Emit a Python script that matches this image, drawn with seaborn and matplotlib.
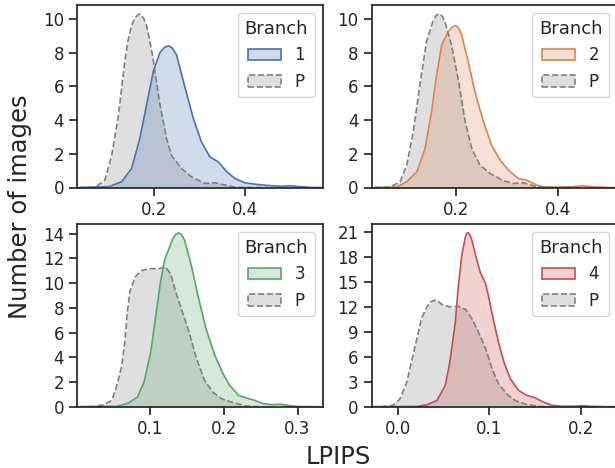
import matplotlib
matplotlib.use("Agg")
import numpy as np
import pandas as pd
import seaborn as sns
import matplotlib.pyplot as plt
from matplotlib.patches import Patch
from matplotlib.colors import to_rgba
from matplotlib.ticker import FixedLocator

# ---------------- data ----------------
branch_labels = ["1", "2", "3", "4"]

# Panel 1
p1_x = [0.035, 0.069, 0.091, 0.106, 0.121, 0.135, 0.142, 0.150, 0.158, 0.168, 0.176, 0.183, 0.190, 0.198, 0.2125, 0.227, 0.238, 0.26, 0.282, 0.312, 0.334, 0.356, 0.378, 0.40, 0.45]
p1_y = [0.0, 0.0, 0.44, 1.9, 4.3, 7.5, 8.7, 9.6, 10.1, 10.3, 10.05, 9.6, 8.7, 7.5, 4.9, 2.9, 1.9, 1.13, 0.63, 0.24, 0.28, 0.14, 0.02, 0.0, 0.0]
b1_x = [0.035, 0.10, 0.128, 0.15, 0.168, 0.183, 0.198, 0.2125, 0.222, 0.232, 0.240, 0.249, 0.268, 0.286, 0.304, 0.3225, 0.341, 0.36, 0.378, 0.40, 0.42, 0.45, 0.48, 0.50, 0.52, 0.55, 0.57]
b1_y = [0.0, 0.05, 0.34, 1.13, 2.9, 4.9, 6.9, 8.0, 8.3, 8.4, 8.25, 7.86, 5.9, 4.1, 2.7, 1.82, 1.52, 0.93, 0.53, 0.28, 0.2, 0.12, 0.07, 0.1, 0.05, 0.0, 0.0]

# Panel 2
p2_x = [0.04, 0.07, 0.09, 0.103, 0.116, 0.129, 0.142, 0.155, 0.161, 0.167, 0.173, 0.178, 0.191, 0.205, 0.218, 0.231, 0.247, 0.267, 0.293, 0.313, 0.3325, 0.359, 0.38, 0.45]
p2_y = [0.0, 0.02, 0.34, 1.33, 3.3, 6.1, 8.65, 9.9, 10.2, 10.3, 10.15, 9.84, 8.46, 6.3, 3.9, 2.3, 1.33, 0.83, 0.4, 0.24, 0.28, 0.04, 0.0, 0.0]
o2_x = [0.04, 0.083, 0.103, 0.123, 0.139, 0.152, 0.162, 0.172, 0.185, 0.192, 0.199, 0.205, 0.211, 0.224, 0.237, 0.254, 0.27, 0.287, 0.303, 0.323, 0.339, 0.359, 0.372, 0.40, 0.43, 0.45, 0.47, 0.50, 0.52]
o2_y = [0.0, 0.02, 0.34, 0.93, 2.3, 4.5, 6.7, 8.46, 9.25, 9.5, 9.6, 9.45, 9.05, 7.47, 5.7, 3.9, 2.5, 1.62, 1.03, 0.53, 0.44, 0.14, 0.04, 0.02, 0.05, 0.1, 0.04, 0.0, 0.0]

# Panel 3
p3_x = [0.005, 0.023, 0.037, 0.048, 0.053, 0.058, 0.062, 0.066, 0.069, 0.073, 0.080, 0.088, 0.099, 0.112, 0.121, 0.128, 0.135, 0.144, 0.153, 0.163, 0.174, 0.185, 0.197, 0.21, 0.224, 0.233, 0.25]
p3_y = [0.0, 0.02, 0.16, 0.5, 1.3, 2.4, 3.4, 5.3, 7.5, 9.4, 10.5, 11.0, 11.17, 11.17, 11.3, 10.76, 9.28, 7.66, 6.04, 3.9, 2.13, 1.19, 0.65, 0.38, 0.16, 0.03, 0.0]
g3_x = [0.005, 0.055, 0.071, 0.083, 0.092, 0.101, 0.108, 0.114, 0.120, 0.131, 0.135, 0.139, 0.143, 0.147, 0.156, 0.165, 0.176, 0.188, 0.199, 0.208, 0.22, 0.231, 0.242, 0.254, 0.265, 0.276, 0.29, 0.30, 0.33]
g3_y = [0.0, 0.03, 0.3, 0.78, 2.0, 4.4, 7.4, 10.0, 11.9, 13.6, 13.95, 14.08, 13.9, 13.46, 11.44, 9.0, 6.3, 4.15, 2.67, 1.73, 0.92, 0.7, 0.51, 0.24, 0.16, 0.2, 0.08, 0.02, 0.0]

# Panel 4
p4_x = [-0.028, -0.016, -0.005, 0.0026, 0.01, 0.015, 0.021, 0.026, 0.032, 0.036, 0.040, 0.044, 0.048, 0.057, 0.066, 0.074, 0.081, 0.088, 0.096, 0.103, 0.110, 0.119, 0.128, 0.138, 0.149, 0.159, 0.17]
p4_y = [0.0, 0.02, 0.16, 0.96, 2.97, 5.37, 8.2, 10.6, 12.0, 12.6, 12.8, 12.7, 12.3, 12.0, 12.06, 11.7, 10.6, 9.0, 7.0, 4.57, 2.77, 1.56, 0.76, 0.36, 0.12, 0.02, 0.0]
r4_x = [-0.028, 0.021, 0.032, 0.043, 0.052, 0.057, 0.063, 0.066, 0.070, 0.074, 0.0755, 0.077, 0.079, 0.081, 0.086, 0.090, 0.096, 0.099, 0.105, 0.110, 0.116, 0.123, 0.132, 0.141, 0.150, 0.159, 0.169, 0.18, 0.19, 0.2025, 0.215, 0.23, 0.24]
r4_y = [0.0, 0.03, 0.24, 0.76, 2.57, 5.37, 10.2, 14.2, 18.2, 20.4, 20.85, 20.9, 20.6, 20.0, 17.8, 16.2, 14.8, 13.4, 10.2, 7.8, 5.37, 3.37, 1.96, 1.36, 1.08, 0.56, 0.16, 0.05, 0.05, 0.1, 0.03, 0.0, 0.0]

branch_x = [b1_x, o2_x, g3_x, r4_x]
branch_y = [b1_y, o2_y, g3_y, r4_y]
pool_x = [p1_x, p2_x, p3_x, p4_x]
pool_y = [p1_y, p2_y, p3_y, p4_y]

xticks = [[0.2, 0.4], [0.2, 0.4], [0.1, 0.2, 0.3], [0.0, 0.1, 0.2]]
yticks = [[0, 2, 4, 6, 8, 10], [0, 2, 4, 6, 8, 10],
          [0, 2, 4, 6, 8, 10, 12, 14], [0, 3, 6, 9, 12, 15, 18, 21]]

# ---------------- styling / layout ----------------
sns.set_theme(style="ticks", context="notebook")
plt.rcParams["font.family"] = ["DejaVu Sans"]

W, H = 615, 468
fig = plt.figure(figsize=(W / 100, H / 100), dpi=100)

colors = sns.color_palette("deep")
pool_color = "gray"
LW = 1.2

# axes boxes in pixels: left, top, right, bottom
boxes = [(77.3, 5.0, 323.0, 187.5), (371.7, 5.0, 617.4, 187.5),
         (77.3, 224.0, 323.0, 406.7), (371.7, 224.0, 617.4, 406.7)]
xlims = [(0.0302, 0.572), (0.0342, 0.5174), (0.0015, 0.3345), (-0.0284, 0.240)]

for i in range(4):
    l, t, r, b = boxes[i]
    ax = fig.add_axes([l / W, 1 - b / H, (r - l) / W, (b - t) / H])
    lab = branch_labels[i]
    col = colors[i]
    df = pd.concat([
        pd.DataFrame({"LPIPS": branch_x[i], "Density": branch_y[i], "Branch": lab}),
        pd.DataFrame({"LPIPS": pool_x[i], "Density": pool_y[i], "Branch": "P"}),
    ], ignore_index=True)

    for name, c in [("P", pool_color), (lab, col)]:
        sub = df[df["Branch"] == name]
        ax.fill_between(sub["LPIPS"], 0, sub["Density"], color=c, alpha=0.25, linewidth=0)

    sns.lineplot(data=df, x="LPIPS", y="Density", hue="Branch", style="Branch",
                 hue_order=[lab, "P"], style_order=[lab, "P"],
                 palette={lab: col, "P": pool_color},
                 dashes={lab: "", "P": (3.7, 1.6)},
                 linewidth=LW, estimator=None, sort=False, legend=False, ax=ax)

    ymax = max(max(branch_y[i]), max(pool_y[i]))
    ax.set_ylim(0, ymax * 1.05)
    ax.set_xlim(*xlims[i])
    ax.xaxis.set_major_locator(FixedLocator(xticks[i]))
    ax.yaxis.set_major_locator(FixedLocator(yticks[i]))
    ax.tick_params(labelsize=12)
    ax.set_xlabel("")
    ax.set_ylabel("")

    handles = [
        Patch(facecolor=to_rgba(col, 0.25), edgecolor=col, linewidth=LW, label=lab),
        Patch(facecolor=to_rgba(pool_color, 0.25), edgecolor=pool_color,
              linewidth=LW, linestyle="--", label="P"),
    ]
    ax.legend(handles=handles, title="Branch", loc="upper right",
              fontsize=12, title_fontsize=13)

fig.text(338.5 / W, 1 - 464 / H, "LPIPS", ha="center", va="baseline", fontsize=17.5)
fig.text(27.3 / W, 1 - 206.5 / H, "Number of images", rotation=90,
         rotation_mode="anchor", ha="center", va="baseline", fontsize=17.5)

fig.savefig("out.png", dpi=100)
